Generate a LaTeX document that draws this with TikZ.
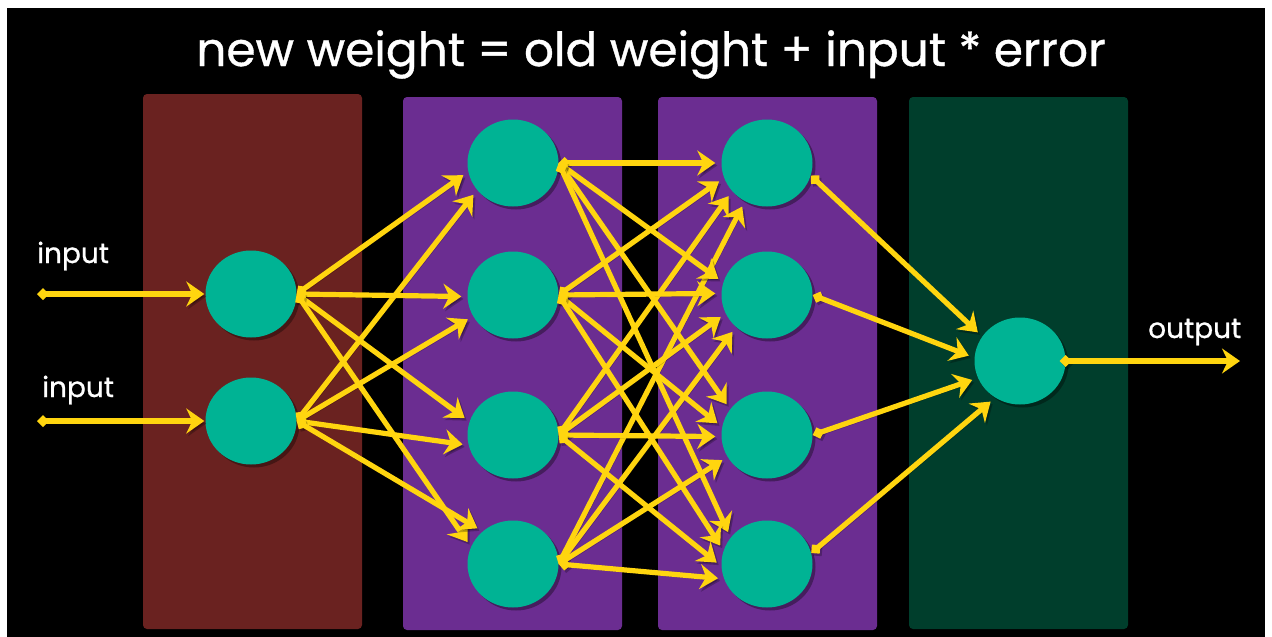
\documentclass[tikz,border=0pt]{standalone}
\usepackage{fontspec}
\setmainfont{Poppins}
\newfontfamily\headfont{Poppins}[FakeBold=0.8]
\usetikzlibrary{arrows.meta,shapes.geometric,shadows}

\definecolor{ylw}{HTML}{FFD50F}
\definecolor{teal}{HTML}{00B394}
\definecolor{redpanel}{HTML}{6A2220}
\definecolor{purplepanel}{HTML}{6B2D91}
\definecolor{greenpanel}{HTML}{003E2C}

\tikzset{
  panel/.style={rounded corners=4pt, draw=none},
  neuron/.style={ellipse, fill=teal, minimum width=91pt, minimum height=87pt, inner sep=0pt,
    drop shadow={shadow xshift=3pt, shadow yshift=-3pt, fill=black, opacity=0.35}},
  tips/.style={{Diamond[length=12pt,width=12pt]}-{Stealth[length=18pt,width=25pt,inset=6pt]}},
  edge/.style={draw=ylw, line width=5.2pt, line cap=butt, tips, shorten >=6pt,
    preaction={draw=black, opacity=0.25, tips, transform canvas={shift={(2pt,-2.5pt)}}}},
  label/.style={text=white, anchor=base west, font=\headfont\fontsize{28}{30}\selectfont, inner sep=0pt},
}

\begin{document}
\begin{tikzpicture}[x=1pt,y=-1pt]
  % canvas with its thin white margin
  \fill[white] (0,0) rectangle (1272,637);
  \fill[black] (7,8) rectangle (1265,637);
  \useasboundingbox (0,0) rectangle (1272,637);

  % title
  \node[text=white, anchor=base, inner sep=0pt, font=\headfont\fontsize{47}{52}\selectfont] (title) at (651,66)
    {new weight = old weight + input * error};

  % layer panels
  \fill[panel, redpanel]    (143,94) rectangle (362,629);
  \fill[panel, purplepanel] (403,97) rectangle (622,630);
  \fill[panel, purplepanel] (658,97) rectangle (877,630);
  \fill[panel, greenpanel]  (909,97) rectangle (1128,629);

  % neurons
  \node[neuron] (a1) at (251,294) {};
  \node[neuron] (a2) at (251,421) {};
  \foreach \i/\y in {1/163,2/295,3/435,4/564} {
    \node[neuron] (b\i) at (513,\y) {};
    \node[neuron] (c\i) at (767,\y) {};
  }
  \node[neuron] (o) at (1020,361) {};

  % inputs and output
  \coordinate (in1) at (37,294);
  \coordinate (in2) at (37,421);
  \coordinate (out) at (1240,361);
  \node[label] (lin1) at (37,263) {input};
  \node[label] (lin2) at (42,397) {input};
  \node[label] (lout) at (1148,338) {output};
  \draw[edge, shorten >=1pt] (in1) -- (a1.180);
  \draw[edge, shorten >=1pt] (in2) -- (a2.180);
  \draw[edge, shorten >=0pt, shorten <=-6pt] (o.east) -- (out);

  % input layer to first hidden layer
  \foreach \s/\t/\ang in {a1/b1/191, a2/b1/217, a1/b2/182, a2/b2/208,
                           a1/b3/163, a2/b3/193, a1/b4/158, a2/b4/133}
    \draw[edge] (\s.east) -- (\t.\ang);

  % first hidden layer to second hidden layer
  \foreach \s/\t/\ang in {b1/c1/180, b2/c1/199, b3/c1/219, b4/c1/240,
                           b1/c2/164, b2/c2/178, b3/c2/204, b4/c2/226,
                           b1/c3/145, b2/c3/170, b3/c3/182, b4/c3/209,
                           b1/c4/144, b2/c4/163, b3/c4/183, b4/c4/199}
    \draw[edge] (\s.east) -- (\t.\ang);

  % second hidden layer to output neuron
  \foreach \s/\sa/\ang in {c1/344/147, c2/0/176, c3/0/202, c4/14/236}
    \draw[edge] (\s.\sa) -- (o.\ang);
\end{tikzpicture}
\end{document}
